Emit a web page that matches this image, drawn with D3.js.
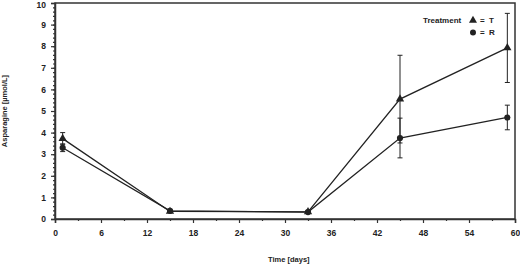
<!DOCTYPE html>
<html>
<head>
<meta charset="utf-8">
<script src="https://cdn.jsdelivr.net/npm/d3@7"></script>
<style>
body { margin: 0; background: #fff; }
text { font-family: "Liberation Sans Narrow", "Arial Narrow", "Liberation Sans", sans-serif; font-weight: bold; fill: #222; }
</style>
</head>
<body>
<div id="chart"></div>
<script>
var days = [1, 15, 33, 45, 59];
var tMean = [3.72, 0.35, 0.33, 5.55, 7.92];
var tErr = [0.28, 0.05, 0.05, 2.03, 1.6];
var rMean = [3.3, 0.38, 0.32, 3.75, 4.7];
var rErr = [0.18, 0.05, 0.05, 0.92, 0.57];
var xTicks = [0, 6, 12, 18, 24, 30, 36, 42, 48, 54, 60];
var yTicks = [0, 1, 2, 3, 4, 5, 6, 7, 8, 9, 10];

var margin = {top: 3, right: 5, bottom: 47, left: 55};
var width = 520 - margin.left - margin.right;
var height = 266 - margin.top - margin.bottom;

var svg = d3.select("#chart")
    .append("svg")
    .attr("width", 520)
    .attr("height", 266)
    .append("g")
    .attr("transform", "translate(" + margin.left + "," + margin.top + ")");

var xScale = d3.scaleLinear().domain([0, 60]).range([0, width]);
var yScale = d3.scaleLinear().domain([0, 10]).range([height, 0]);

// frame
svg.append("rect")
    .attr("width", width)
    .attr("height", height)
    .attr("fill", "none")
    .attr("stroke", "#333")
    .attr("stroke-width", 1.5);

// minor ticks
svg.append("g")
    .attr("transform", "translate(0," + height + ")")
    .call(d3.axisBottom(xScale).tickValues(d3.range(3, 60, 6)).tickSize(2).tickFormat(""))
    .call(g => g.select(".domain").remove());
svg.append("g")
    .call(d3.axisLeft(yScale).tickValues(d3.range(0, 10.01, 0.2)).tickSize(2).tickFormat(""))
    .call(g => g.select(".domain").remove());

var xAxis = svg.append("g")
    .attr("transform", "translate(0," + height + ")")
    .call(d3.axisBottom(xScale).tickValues(xTicks).tickSize(4).tickPadding(7).tickFormat(d3.format("d")));
xAxis.select(".domain").attr("stroke", "#333").attr("stroke-width", 1.5);
xAxis.selectAll("text").style("font-size", "8.5px");

var yAxis = svg.append("g")
    .call(d3.axisLeft(yScale).tickValues(yTicks).tickSize(4).tickPadding(5));
yAxis.select(".domain").attr("stroke", "#333").attr("stroke-width", 1.5);
yAxis.selectAll("text").style("font-size", "8.5px");
// keep the top label inside the window
yAxis.selectAll(".tick text").filter(d => d === 10).attr("dy", "0.55em");

svg.selectAll(".tick line").attr("stroke", "#333").attr("stroke-width", 1.2);

svg.append("text")
    .attr("transform", "rotate(-90)")
    .attr("x", -height / 2)
    .attr("y", -48)
    .style("text-anchor", "middle")
    .style("font-size", "7.5px")
    .text("Asparagine [µmol/L]");

svg.append("text")
    .attr("x", xScale(30.5))
    .attr("y", height + 43)
    .style("text-anchor", "middle")
    .style("font-size", "7.5px")
    .text("Time [days]");

var line = d3.line()
    .x(d => xScale(d[0]))
    .y(d => yScale(d[1]));

function drawSeries(means, errs, shape) {
    var pts = days.map((d, i) => [d, means[i], errs[i]]);
    svg.append("path")
        .datum(pts)
        .attr("fill", "none")
        .attr("stroke", "#222")
        .attr("stroke-width", 1.3)
        .attr("d", line);
    var eb = svg.append("g").attr("stroke", "#222").attr("stroke-width", 1);
    pts.forEach(function(p) {
        var x = xScale(p[0]);
        eb.append("line").attr("x1", x).attr("x2", x)
            .attr("y1", yScale(p[1] - p[2])).attr("y2", yScale(p[1] + p[2]));
        eb.append("line").attr("x1", x - 2.5).attr("x2", x + 2.5)
            .attr("y1", yScale(p[1] + p[2])).attr("y2", yScale(p[1] + p[2]));
        eb.append("line").attr("x1", x - 2.5).attr("x2", x + 2.5)
            .attr("y1", yScale(p[1] - p[2])).attr("y2", yScale(p[1] - p[2]));
    });
    svg.selectAll(null)
        .data(pts)
        .enter().append("path")
        .attr("transform", d => "translate(" + xScale(d[0]) + "," + yScale(d[1]) + ")")
        .attr("d", d3.symbol().type(shape).size(30))
        .attr("fill", "#222");
}

drawSeries(tMean, tErr, d3.symbolTriangle);
drawSeries(rMean, rErr, d3.symbolCircle);

// legend
var lg = svg.append("g").style("font-size", "8px");
lg.append("text").attr("x", 368).attr("y", 20).text("Treatment");
lg.append("path").attr("transform", "translate(418,17.5)").attr("d", d3.symbol().type(d3.symbolTriangle).size(28)).attr("fill", "#222");
lg.append("text").attr("x", 425).attr("y", 20).attr("xml:space", "preserve").text("=  T");
lg.append("path").attr("transform", "translate(418,29.5)").attr("d", d3.symbol().type(d3.symbolCircle).size(28)).attr("fill", "#222");
lg.append("text").attr("x", 425).attr("y", 32).attr("xml:space", "preserve").text("=  R");
</script>
</body>
</html>
